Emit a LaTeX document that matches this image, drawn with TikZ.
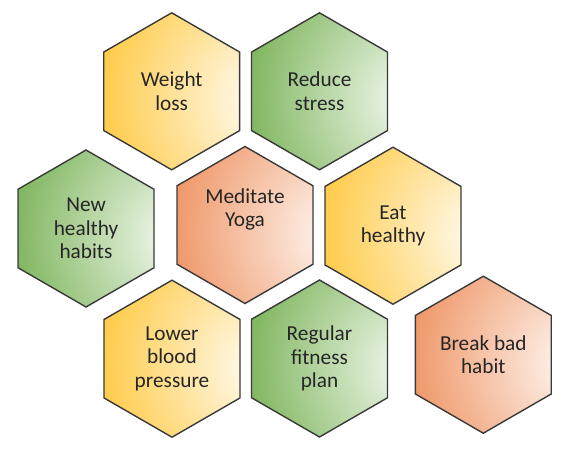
\documentclass[tikz,border=0pt]{standalone}
\usepackage{fontspec}
\setmainfont{Carlito}
\usetikzlibrary{shapes.geometric}
\definecolor{hexline}{HTML}{3A3A3A}
\definecolor{ylwA}{HTML}{FFC22A}
\definecolor{ylwB}{HTML}{FFFAEC}
\definecolor{grnA}{HTML}{6BAA45}
\definecolor{grnB}{HTML}{EEF6E9}
\definecolor{orgA}{HTML}{EC8650}
\definecolor{orgB}{HTML}{FEF3EC}
\definecolor{txt}{HTML}{262626}
\pgfdeclareradialshading{ylwshade}{\pgfpoint{36bp}{-3bp}}{color(0bp)=(ylwB); color(5bp)=(ylwB); color(54bp)=(ylwA); color(100bp)=(ylwA)}
\pgfdeclareradialshading{grnshade}{\pgfpoint{36bp}{-3bp}}{color(0bp)=(grnB); color(5bp)=(grnB); color(54bp)=(grnA); color(100bp)=(grnA)}
\pgfdeclareradialshading{orgshade}{\pgfpoint{36bp}{-3bp}}{color(0bp)=(orgB); color(5bp)=(orgB); color(54bp)=(orgA); color(100bp)=(orgA)}
\begin{document}
\begin{tikzpicture}[x=1pt,y=-1pt,
  hexbox/.style={regular polygon, regular polygon sides=6, shape border rotate=30,
    minimum size=157pt, inner sep=0pt, outer sep=0pt, draw=hexline, line width=1.4pt,
    font=\fontsize{21.3}{23.5}\selectfont, align=center, text=txt},
  hextext/.style={font=\fontsize{21.3}{23.5}\selectfont, align=center, text=txt, inner sep=0pt},
  ylwfill/.style={shading=ylwshade},
  grnfill/.style={shading=grnshade},
  orgfill/.style={shading=orgshade}]
\useasboundingbox[fill=white] (0,0) rectangle (569,448);
\node[hexbox, ylwfill] (wl) at (171.7,91.3) {Weight\\loss};
\node[hexbox, grnfill] (rs) at (319.5,91.3) {Reduce\\stress};
\node[hexbox, grnfill] (nh) at (86,228.5) {New\\healthy\\habits};
\node[hexbox, orgfill] (my) at (245,225) {};
\node[hextext] (mytxt) at (245,209.5) {Meditate\\Yoga};
\node[hexbox, ylwfill] (eh) at (393,225.7) {Eat\\healthy};
\node[hexbox, ylwfill] (lb) at (172,358.7) {Lower\\blood\\pressure};
\node[hexbox, grnfill] (rf) at (319.5,358.5) {Regular\\fitness\\plan};
\node[hexbox, orgfill] (bb) at (483.3,354.7) {Break bad\\habit};
\end{tikzpicture}
\end{document}
